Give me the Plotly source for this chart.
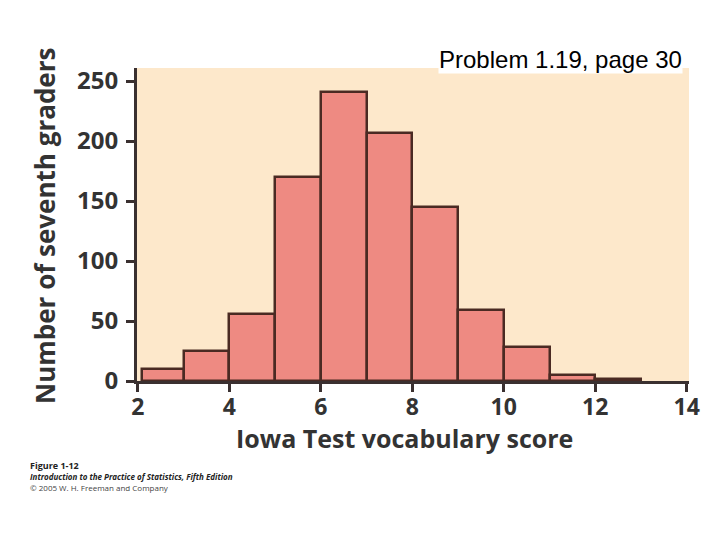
import plotly.graph_objects as go

# Data
bin_left = [2.1, 3, 4, 5, 6, 7, 8, 9, 10, 11, 12]
bin_right = [3, 4, 5, 6, 7, 8, 9, 10, 11, 12, 13]
counts = [10, 25, 56, 170, 241, 207, 145, 59, 28, 5, 2]
x_ticks = [2, 4, 6, 8, 10, 12, 14]
y_ticks = [0, 50, 100, 150, 200, 250]

centers = [(a + b) / 2 for a, b in zip(bin_left, bin_right)]
widths = [b - a for a, b in zip(bin_left, bin_right)]

BAR = "#ee8a82"
EDGE = "#4a2a23"
CREAM = "#fde8cb"
TXT = "#333333"
FONT = "Open Sans"

# page body has an 8px margin, so the figure is drawn 8px right/down
OFF = 8
FW, FH = 720 - OFF, 540 - OFF
L, T, R, B = 137 - OFF, 68 - OFF, 689 - OFF, 381 - OFF

fig = go.Figure()
fig.add_trace(go.Bar(
    x=centers, y=counts, width=widths,
    marker=dict(color=BAR, line=dict(color=EDGE, width=2.5)),
    hoverinfo="skip",
))

fig.update_layout(
    width=FW, height=FH,
    margin=dict(l=L, r=FW - R, t=T, b=FH - B, autoexpand=False),
    paper_bgcolor="white",
    plot_bgcolor=CREAM,
    showlegend=False,
    bargap=0,
    font=dict(family=FONT, color=TXT),
)

fig.update_xaxes(
    range=[1.98, 14.05],
    tickvals=x_ticks,
    ticks="outside", ticklen=8, tickwidth=2.5, tickcolor="#3a3030",
    showline=True, linecolor="#3a3030", linewidth=3,
    showgrid=False, zeroline=False,
    tickfont=dict(family=FONT, size=23, color=TXT, weight="bold"),
    ticklabelstandoff=-5,
)
fig.update_yaxes(
    range=[0, (381 - 68) / 1.2],
    tickvals=y_ticks,
    ticks="outside", ticklen=8, tickwidth=2.5, tickcolor="#3a3030",
    showline=True, linecolor="#3a3030", linewidth=3,
    showgrid=False, zeroline=False,
    tickfont=dict(family=FONT, size=24, color=TXT, weight="bold"),
    ticklabelstandoff=3,
)

W = R - L
H = B - T

def px(xp):
    return (xp - OFF - L) / W

def py(yp):
    return (B - (yp - OFF)) / H

annotations = [
    dict(text="<b>Iowa Test vocabulary score</b>", x=px(404), y=py(438),
         font=dict(family=FONT, size=25, color=TXT)),
    dict(text="<b>Number of seventh graders</b>", x=px(45), y=py(226), textangle=-90,
         font=dict(family=FONT, size=26, color=TXT)),
    dict(text="Problem 1.19, page 30", x=px(560), y=py(60), bgcolor="white",
         borderpad=0,
         font=dict(family="Liberation Sans", size=24, color="black")),
    dict(text="<b>Figure 1-12</b>", x=px(28), y=py(465), xanchor="left",
         font=dict(family=FONT, size=9, color="#222")),
    dict(text="<b><i>Introduction to the Practice of Statistics, Fifth Edition</i></b>",
         x=px(28), y=py(476), xanchor="left",
         font=dict(family=FONT, size=8, color="#222")),
    dict(text="© 2005 W. H. Freeman and Company", x=px(28), y=py(487), xanchor="left",
         font=dict(family=FONT, size=8, color="#444")),
]
for a in annotations:
    a.update(xref="paper", yref="paper", showarrow=False)
    a.setdefault("xanchor", "center")
    a.setdefault("yanchor", "middle")
fig.update_layout(annotations=annotations)

fig.write_html("out.html")
